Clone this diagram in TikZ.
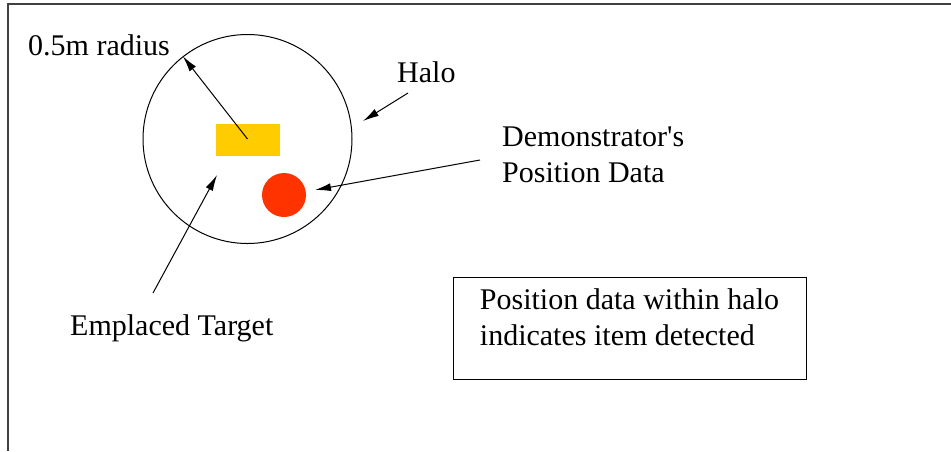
\documentclass[tikz,border=0pt]{standalone}
\usepackage{fontspec}
\setmainfont{LiberationSerif-Regular.ttf}
\newfontfamily\labelface{LiberationSerif-Regular.ttf}
\usetikzlibrary{arrows.meta}
\definecolor{targetyellow}{HTML}{FFCC00}
\definecolor{dotred}{HTML}{FF3300}

\begin{document}
\begin{tikzpicture}[x=1pt,y=-1pt,>={Latex[length=16pt,width=8pt]},
	lbl/.style={inner sep=0pt,font=\labelface\fontsize{30}{36}\selectfont},
	thin line/.style={line width=1pt}]
	\useasboundingbox (0,0) rectangle (951,451);
	\draw [line width=1.3pt,black!75](951,4)--(8,4)--(8,451);
	\node (halo) at (247.5,139) [circle,draw,thin line,minimum size=209pt,inner sep=0pt] {};
	\node (target) at (248,140) [fill=targetyellow,minimum width=64pt,minimum height=32pt,inner sep=0pt] {};
	\node (dot) at (284,195) [circle,fill=dotred,minimum size=44pt,inner sep=0pt] {};
	\node (rad) at (28,55)[lbl,anchor=base west] {0.5m radius};
	\node (halolbl) at (397,82)[lbl,anchor=base west] {Halo};
	\node (demo) at (502,127)[lbl,anchor=north west,align=left] {Demonstrator\textquotesingle s\\Position Data};
	\node (emp) at (70,335)[lbl,anchor=base west] {Emplaced Target};
	\node (note) at (629.5,328)[lbl,draw,thin line,align=left,minimum width=353pt,minimum height=102pt,text depth=22pt] {Position data within halo\\indicates item detected};
	\coordinate (halotail) at (408,93);
	\coordinate (halotip) at (363,121);
	\coordinate (demotail) at (480,160);
	\coordinate (demotip) at (315,190);
	\coordinate (emptail) at (153,293);
	\coordinate (emptip) at (217,175);
	\draw [->,thin line](halo.center)--(halo.128);
	\draw [->,thin line](halotail)--(halotip);
	\draw [->,thin line](demotail)--(demotip);
	\draw [->,thin line](emptail)--(emptip);
\end{tikzpicture}
\end{document}
